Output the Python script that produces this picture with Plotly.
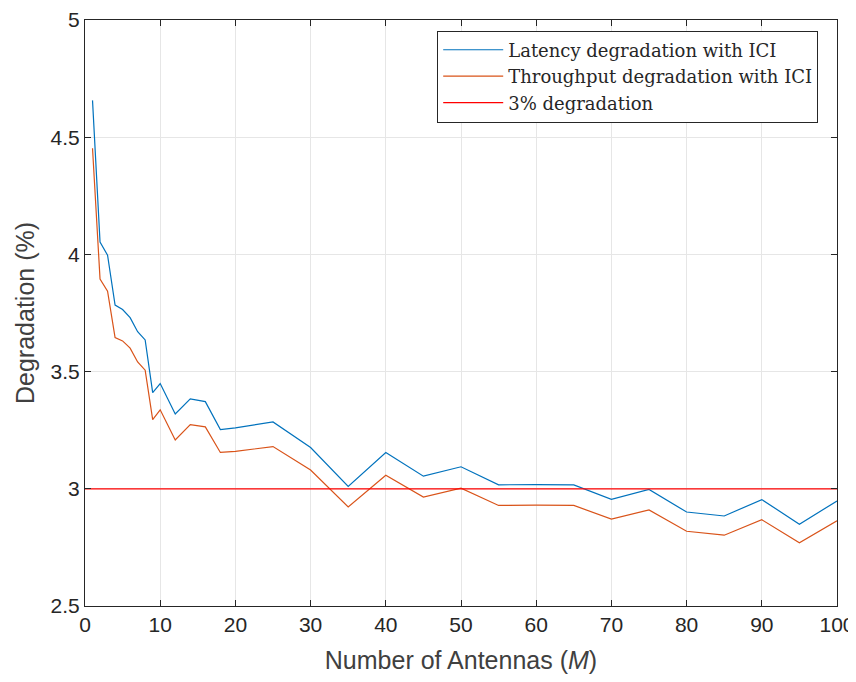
import plotly.graph_objects as go

antennas = [1, 2, 3, 4, 5, 6, 7, 8, 9, 10, 12, 14, 16, 18, 20, 25, 30, 35, 40, 45, 50, 55, 60, 65, 70, 75, 80, 85, 90, 95, 100]
latency_deg = [4.657, 4.053, 3.997, 3.784, 3.765, 3.730, 3.670, 3.635, 3.410, 3.449, 3.319, 3.384, 3.372, 3.253, 3.260, 3.285,
               3.176, 3.010, 3.155, 3.054, 3.094, 3.017, 3.018, 3.017, 2.955, 2.997, 2.901, 2.884, 2.954, 2.849, 2.948]
throughput_deg = [4.453, 3.895, 3.843, 3.645, 3.631, 3.600, 3.541, 3.506, 3.295, 3.337, 3.208, 3.274, 3.264, 3.155, 3.160, 3.180,
                  3.080, 2.923, 3.058, 2.965, 3.003, 2.929, 2.930, 2.929, 2.871, 2.910, 2.819, 2.802, 2.868, 2.770, 2.864]
threshold_x = [0, 100]
threshold_y = [3, 3]
x_ticks = [0, 10, 20, 30, 40, 50, 60, 70, 80, 90, 100]
y_ticks = [2.5, 3, 3.5, 4, 4.5, 5]
y_tick_text = ["2.5", "3", "3.5", "4", "4.5", "5"]

fig = go.Figure()
fig.add_trace(go.Scatter(x=antennas, y=latency_deg, mode="lines", name="Latency degradation with ICI",
                         line=dict(color="#0072BD", width=1.2)))
fig.add_trace(go.Scatter(x=antennas, y=throughput_deg, mode="lines", name="Throughput degradation with ICI",
                         line=dict(color="#D95319", width=1.2)))
fig.add_trace(go.Scatter(x=threshold_x, y=threshold_y, mode="lines", name="3% degradation",
                         line=dict(color="#FF0000", width=1.2)))

axis_common = dict(showgrid=True, gridcolor="#e6e6e6", gridwidth=1, showline=True, linecolor="#262626",
                   linewidth=1, mirror="ticks", ticks="inside", ticklen=6, tickcolor="#262626",
                   zeroline=False, automargin=False, ticklabeloverflow="allow")

# page body adds an 8px offset; figure sized to fit the visible window without scrollbars
fig.update_layout(
    width=848, height=666,
    margin=dict(l=77, r=19, t=12, b=68),
    plot_bgcolor="white", paper_bgcolor="white",
    xaxis=dict(range=[0, 100], tickvals=x_ticks, **axis_common,
               tickfont=dict(family="Liberation Sans, Arial, sans-serif", size=21, color="#262626"),
               title=dict(text="Number of Antennas (<i>M</i>)", standoff=16,
                          font=dict(family="Liberation Sans, Arial, sans-serif", size=25, color="#404040"))),
    yaxis=dict(range=[2.5, 5], tickvals=y_ticks, ticktext=y_tick_text, **axis_common,
               tickfont=dict(family="Liberation Sans, Arial, sans-serif", size=21, color="#262626"),
               title=dict(text="Degradation (%)", standoff=8,
                          font=dict(family="Liberation Sans, Arial, sans-serif", size=25, color="#404040"))),
    legend=dict(x=0.975, y=0.982, xanchor="right", yanchor="top", bgcolor="white",
                bordercolor="#262626", borderwidth=1,
                font=dict(family="DejaVu Serif, Liberation Serif, serif", size=18, color="#262626"),
                tracegroupgap=0, itemwidth=60),
    showlegend=True,
)

fig.write_html("out.html")
